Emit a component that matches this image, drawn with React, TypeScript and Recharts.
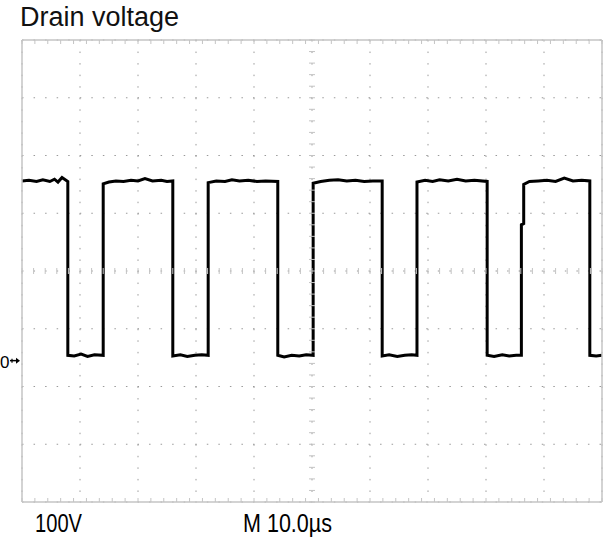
import { CartesianGrid, ComposedChart, Line, ReferenceDot, Scatter, XAxis, YAxis } from "recharts"

// trace: time in µs (10 µs/div), drain voltage in V (100 V/div)
const TIME_US = [
  0, 1.2, 2.5, 3.6, 4.8, 5.6, 6.2, 6.9, 7.9,
  7.9, 9.0, 10.2, 11.3, 12.5, 14.0,
  14.0, 15.0, 16.2, 17.5, 18.8, 20.0, 21.2, 22.5, 24.0, 25.0, 26.0,
  26.0, 27.3, 28.5, 29.8, 31.0, 32.1,
  32.1, 33.5, 35.0, 36.2, 37.5, 39.0, 40.5, 42.0, 44.1,
  44.1, 45.2, 46.5, 47.8, 49.0, 50.2,
  50.2, 51.5, 53.0, 54.5, 56.0, 57.5, 59.0, 60.5, 62.1,
  62.1, 63.3, 64.7, 66.0, 67.2, 68.1,
  68.1, 69.5, 70.8, 72.0, 73.5, 75.0, 76.5, 78.0, 80.2,
  80.2, 81.4, 82.8, 84.0, 85.2, 86.1,
  86.1, 86.5, 86.5, 87.5, 89.0, 90.5, 92.0, 93.5, 95.0, 96.5, 97.9,
  97.9, 99.0, 100,
]
const DRAIN_V = [
  306, 307, 305, 308, 305, 309, 304, 312, 305,
  4, 3, 6, 2, 5, 4,
  301, 304, 306, 305, 307, 306, 310, 306, 307, 305, 306,
  3, 5, 2, 4, 5, 4,
  303, 306, 305, 308, 306, 307, 305, 306, 305,
  4, 1, 4, 3, 5, 4,
  302, 305, 307, 308, 306, 307, 305, 306, 306,
  3, 5, 2, 4, 5, 4,
  304, 307, 305, 308, 306, 309, 306, 307, 305,
  4, 2, 5, 3, 4, 4,
  230, 232, 300, 305, 306, 307, 305, 311, 306, 307, 306,
  4, 3, 4,
]

const MAJOR_T = [0, 10, 20, 30, 40, 50, 60, 70, 80, 90, 100]
const MINOR_T = [
  0, 2, 4, 6, 8, 10, 12, 14, 16, 18, 20, 22, 24, 26, 28, 30, 32, 34, 36, 38, 40, 42, 44, 46, 48, 50,
  52, 54, 56, 58, 60, 62, 64, 66, 68, 70, 72, 74, 76, 78, 80, 82, 84, 86, 88, 90, 92, 94, 96, 98, 100,
]
const MAJOR_V = [-250, -150, -50, 50, 150, 250, 350, 450, 550]
const MINOR_V = [
  -250, -230, -210, -190, -170, -150, -130, -110, -90, -70, -50, -30, -10, 10, 30, 50, 70, 90, 110, 130,
  150, 170, 190, 210, 230, 250, 270, 290, 310, 330, 350, 370, 390, 410, 430, 450, 470, 490, 510, 530, 550,
]

const trace = TIME_US.map((t, i) => ({ t, v: DRAIN_V[i] }))
const centerVertical = MINOR_V.map((v) => ({ t: 50, v }))
const centerHorizontal = MINOR_T.map((t) => ({ t, v: 150 }))

const FRAME = "#c4c4c4"
const FONT = "'Liberation Sans', Arial, sans-serif"

const NoLabel = () => <g />
const HTick = (p: any) => <line x1={p.cx - 3} x2={p.cx + 3} y1={p.cy} y2={p.cy} stroke={FRAME} />
const VTick = (p: any) => <line x1={p.cx} x2={p.cx} y1={p.cy - 3} y2={p.cy + 3} stroke={FRAME} />

// ground reference marker drawn just left of the screen edge
const GroundMarker = (p: any) => (
  <g>
    <text x={p.cx - 22} y={p.cy + 10} fontFamily={FONT} fontSize={17} fill="#000">
      0
    </text>
    <line x1={p.cx - 12} x2={p.cx - 4} y1={p.cy + 3} y2={p.cy + 3} stroke="#000" strokeWidth={1.5} />
    <line x1={p.cx - 10} x2={p.cx - 10} y1={p.cy + 1} y2={p.cy + 5} stroke="#000" strokeWidth={1.2} />
    <path d={`M${p.cx - 6} ${p.cy} L${p.cx - 2} ${p.cy + 3} L${p.cx - 6} ${p.cy + 6} Z`} fill="#000" />
  </g>
)

const frameAxis = {
  tick: NoLabel,
  tickSize: 4,
  interval: 0 as const,
  mirror: true,
  axisLine: { stroke: FRAME, strokeWidth: 1.5 },
  tickLine: { stroke: FRAME },
}

export default function App() {
  return (
    <div style={{ position: "absolute", left: 0, top: 0, width: 605, height: 541, background: "#fff" }}>
      <ComposedChart width={605} height={541} data={trace} margin={{ top: 40, right: 3, bottom: 39, left: 22 }}>
        <CartesianGrid xAxisId="main" yAxisId="main" stroke="#9a9a9a" strokeDasharray="1.5 10.05" />
        <XAxis xAxisId="main" dataKey="t" type="number" domain={[0, 100]} ticks={MAJOR_T} interval={0} height={1}
          mirror axisLine={false} tickLine={false} tick={NoLabel} />
        <YAxis yAxisId="main" dataKey="v" type="number" domain={[-250, 550]} ticks={MAJOR_V} interval={0} width={1}
          mirror axisLine={false} tickLine={false} tick={NoLabel} />

        <XAxis xAxisId="bottom" orientation="bottom" type="number" domain={[0, 100]} ticks={MINOR_T} height={1} {...frameAxis} />
        <XAxis xAxisId="top" orientation="top" type="number" domain={[0, 100]} ticks={MINOR_T} height={1} {...frameAxis} />
        <YAxis yAxisId="left" orientation="left" type="number" domain={[-250, 550]} ticks={MINOR_V} width={1} {...frameAxis} />
        <YAxis yAxisId="right" orientation="right" type="number" domain={[-250, 550]} ticks={MINOR_V} width={1} {...frameAxis} />

        <Scatter xAxisId="main" yAxisId="main" data={centerVertical} dataKey="v" shape={HTick} isAnimationActive={false} />
        <Scatter xAxisId="main" yAxisId="main" data={centerHorizontal} dataKey="v" shape={VTick} isAnimationActive={false} />

        <Line xAxisId="main" yAxisId="main" type="linear" dataKey="v" stroke="#000" strokeWidth={3}
          dot={false} activeDot={false} isAnimationActive={false} />

        <ReferenceDot xAxisId="main" yAxisId="main" x={0} y={0} ifOverflow="visible" shape={GroundMarker} />
      </ComposedChart>

      <svg width={605} height={541} style={{ position: "absolute", left: 0, top: 0, pointerEvents: "none" }}>
        <text x={20} y={26} fontFamily={FONT} fontSize={27} fill="#111">
          Drain voltage
        </text>
        <text x={35} y={532} fontFamily={FONT} fontSize={25} fill="#000" textLength={47} lengthAdjust="spacingAndGlyphs">
          100V
        </text>
        <text x={243} y={532} fontFamily={FONT} fontSize={25} fill="#000" textLength={89} lengthAdjust="spacingAndGlyphs">
          M 10.0µs
        </text>
      </svg>
    </div>
  )
}
